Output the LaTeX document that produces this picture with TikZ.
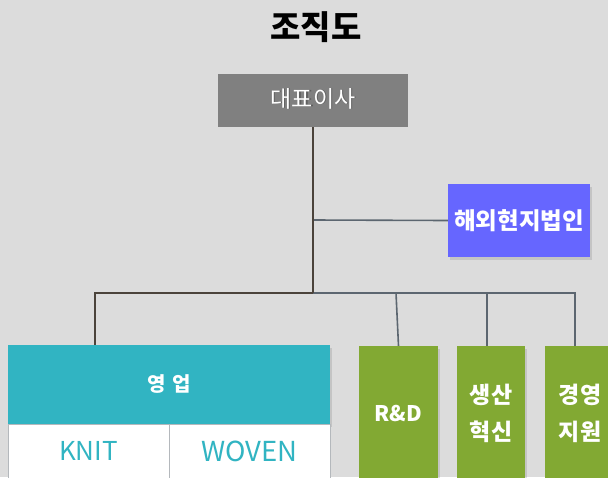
\documentclass[tikz,border=0pt]{standalone}
\usepackage{fontspec}
\setmainfont{Noto Sans CJK KR}
\usetikzlibrary{shadows}
\definecolor{bg}{HTML}{DCDCDC}
\definecolor{ceogray}{HTML}{808080}
\definecolor{ovblue}{HTML}{6666FF}
\definecolor{teal}{HTML}{31B4C2}
\definecolor{green}{HTML}{82A933}
\definecolor{dkline}{HTML}{4B433B}
\definecolor{slline}{HTML}{5C6670}
\definecolor{cellline}{HTML}{B4B8BC}
\tikzset{
  box/.style={rectangle, inner sep=0pt, text=white, font=\bfseries\fontsize{20}{24}\selectfont, align=center},
  shad/.style={drop shadow={shadow xshift=2pt, shadow yshift=-3pt, opacity=0.25}},
  cell/.style={rectangle, inner sep=0pt, fill=white, draw=cellline, line width=1pt, text=teal, font=\fontsize{25}{30}\selectfont},
  dk/.style={draw=dkline, line width=1.6pt},
  sl/.style={draw=slline, line width=1.6pt},
}
\begin{document}
\begin{tikzpicture}[x=1pt,y=-1pt]
\fill[bg] (0,0) rectangle (608,477);
\useasboundingbox (0,0) rectangle (608,477);
\clip (0,0) rectangle (608,477);
% title
\node[font=\bfseries\fontsize{33}{40}\selectfont, text=black] (title) at (316,27) {조직도};
% CEO
\node[box, fill=ceogray, minimum width=190pt, minimum height=53pt] (ceo) at (313,100.5) {};
\node[text=black!70, font=\fontsize{23}{28}\selectfont, opacity=0.6] at (314.2,99.3) {대표이사};
\node[text=white, font=\fontsize{23}{28}\selectfont] (ceot) at (313,98.5) {대표이사};
% overseas
\node[box, shad, fill=ovblue, minimum width=142pt, minimum height=73pt, font=\bfseries\fontsize{23.5}{28}\selectfont] (ov) at (519,220.5) {해외현지법인};
% bus coordinates
\coordinate (j1) at (313,220);
\coordinate (j2) at (313,293);
\coordinate (bl) at (95,293);
\coordinate (br1) at (396,293);
\coordinate (br2) at (487,293);
\coordinate (br3) at (575,293);
% sales
\node[box, shad, fill=teal, minimum width=322pt, minimum height=79pt, font=\bfseries\fontsize{20}{24}\selectfont] (sales) at (169,384.5) {영\,\,업};
\node[cell, minimum width=161pt, minimum height=70pt] (knit) at (88.5,459) {};
\node[cell, minimum width=161pt, minimum height=70pt] (woven) at (249.5,459) {};
\node[text=teal, font=\fontsize{26}{31}\selectfont] (knitt) at (88.5,451) {KNIT};
\node[text=teal, font=\fontsize{27.5}{31}\selectfont] (wovent) at (249.5,451) {WOVEN};
% green boxes
\node[box, shad, fill=green, minimum width=79pt, minimum height=140pt] (rd) at (398.5,416) {};
\node[text=white, font=\bfseries\fontsize{21.5}{26}\selectfont] (rdt) at (398.5,413) {R\&D};
\node[box, shad, fill=green, minimum width=68pt, minimum height=140pt] (prod) at (491,416) {};
\node[text=white, font=\bfseries\fontsize{23}{37}\selectfont, align=center] (prodt) at (491,413) {생산\\혁신};
\node[box, shad, fill=green, minimum width=70pt, minimum height=140pt] (mgmt) at (580,416) {};
\node[text=white, font=\bfseries\fontsize{23}{37}\selectfont, align=center] (mgmtt) at (580,413) {경영\\지원};
% connectors
\draw[sl] (j1) -- (ov.west);
\draw[sl] (j2) -- (br3) -- (mgmt.north -| br3);
\draw[sl] (br1) -- (rd.north);
\draw[sl] (br2) -- (prod.north -| br2);
\draw[dk] (j2) -- (bl) -- (sales.north -| bl);
\draw[dk] (ceo.south) -- (j2);
\end{tikzpicture}
\end{document}
